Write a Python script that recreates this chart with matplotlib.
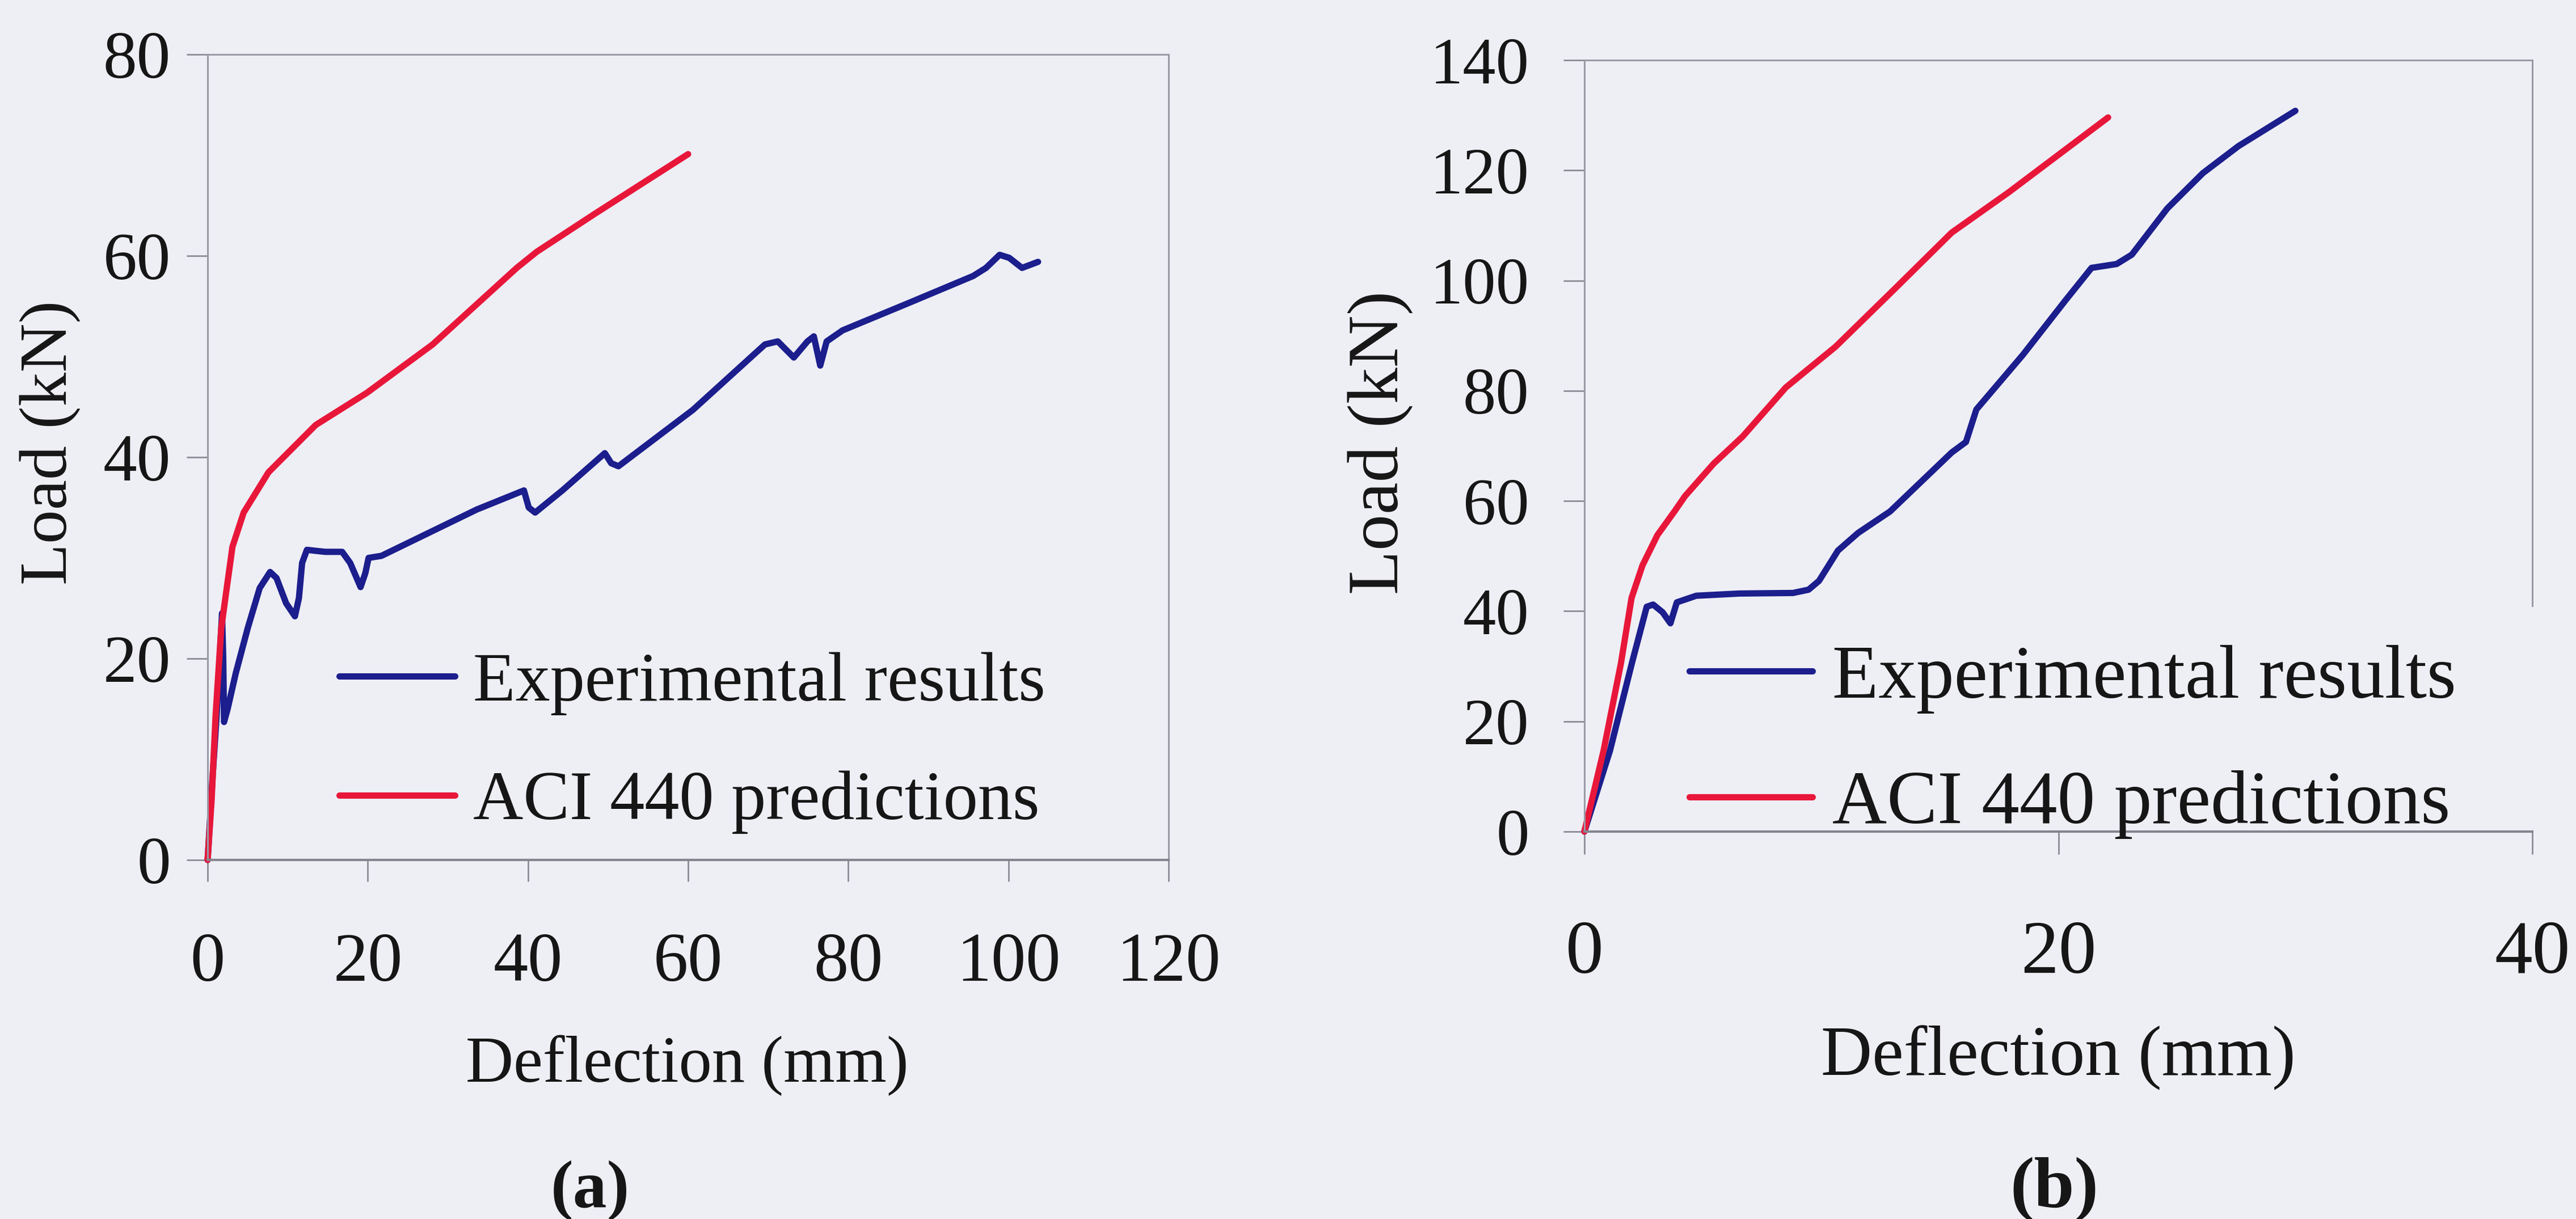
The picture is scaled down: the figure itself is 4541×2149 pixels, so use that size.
import numpy as np
import matplotlib
matplotlib.use("Agg")
import matplotlib.pyplot as plt

plt.rcParams['font.family'] = ['Liberation Serif', 'DejaVu Serif']

W, H = 4541, 2149
BG = '#EEEEF5'
BLUE = '#1B1E8C'
RED = '#E8173A'
SPINE = '#9A9AA6'
TXT = '#161616'

# beam (a): load-deflection
a_exp_x = [0, 0.6, 1.1, 1.5, 1.8, 1.95, 2.05, 2.5, 3.5, 5.0, 6.5, 7.8, 8.6, 9.8, 10.9, 11.4, 11.8,
           12.4, 13.5, 14.7, 16.8, 17.8, 19.1, 19.7, 20.1, 21.7, 33.6, 39.5, 40.1, 40.9, 44.3, 49.6,
           50.4, 51.3, 60.6, 69.6, 71.2, 73.2, 74.9, 75.7, 76.5, 77.3, 79.3, 87.5, 95.6, 97.2, 98.9,
           100.1, 101.7, 103.7]
a_exp_y = [0, 8, 14, 20, 24.5, 20, 13.7, 15, 18.5, 23, 27, 28.6, 28, 25.5, 24.2, 26, 29.5,
           30.8, 30.7, 30.6, 30.6, 29.5, 27.1, 28.5, 30.0, 30.2, 34.8, 36.7, 35.0, 34.5, 36.7, 40.4,
           39.4, 39.1, 44.7, 51.2, 51.5, 49.9, 51.5, 52.0, 49.1, 51.5, 52.6, 55.3, 58.0, 58.8, 60.1,
           59.8, 58.8, 59.4]
a_aci_x = [0, 0.5, 1.0, 1.7, 2.3, 3.1, 4.5, 7.6, 13.5, 19.9, 28.1, 38.6, 41.1, 48.4, 60.0]
a_aci_y = [0, 6, 14.4, 23.0, 26.5, 31.1, 34.5, 38.5, 43.2, 46.4, 51.2, 58.8, 60.4, 64.2, 70.1]

# beam (b): load-deflection
b_exp_x = [0, 1.08, 2.0, 2.63, 2.9, 3.3, 3.63, 3.9, 4.72, 6.54, 8.8, 9.46, 9.9, 10.7, 11.55, 12.9,
           15.5, 16.1, 16.54, 18.5, 20.3, 21.4, 22.46, 23.1, 24.6, 26.1, 27.6, 30.0]
b_exp_y = [0, 14.7, 30.5, 40.8, 41.2, 39.8, 37.8, 41.6, 42.8, 43.2, 43.3, 43.9, 45.5, 51, 54.2, 58.1,
           68.8, 70.7, 76.6, 86.5, 96.4, 102.3, 103, 104.7, 113.1, 119.5, 124.4, 130.8]
b_aci_x = [0, 0.81, 1.54, 1.99, 2.45, 3.08, 3.8, 4.25, 5.46, 6.68, 8.5, 10.6, 13.05, 15.5, 17.9, 22.1]
b_aci_y = [0, 14.7, 30.5, 42.4, 48.3, 53.8, 58.1, 60.9, 66.8, 71.7, 80.6, 88, 98.3, 108.7, 116, 129.6]

a_xticks = [0, 20, 40, 60, 80, 100, 120]
a_yticks = [0, 20, 40, 60, 80]
b_xticks = [0, 20, 40]
b_yticks = [0, 20, 40, 60, 80, 100, 120, 140]

labels = ['Experimental results', 'ACI 440 predictions']


def fx(px):
    return px / W


def fy(py):
    return 1 - py / H


def panel(rect, exp_x, exp_y, aci_x, aci_y, xticks, yticks, xfs, yfs, xpad, ypad, xlen):
    l, t, r, b = rect
    ax = fig.add_axes([fx(l), fy(b), fx(r) - fx(l), fy(t) - fy(b)])
    ax.set_facecolor(BG)
    ax.plot(exp_x, exp_y, color=BLUE, lw=8, label=labels[0], clip_on=False,
            solid_capstyle='round', solid_joinstyle='round')
    ax.plot(aci_x, aci_y, color=RED, lw=8, label=labels[1], clip_on=False,
            solid_capstyle='round', solid_joinstyle='round')
    ax.set_xlim(xticks[0], xticks[-1])
    ax.set_ylim(yticks[0], yticks[-1])
    ax.set_xticks(xticks)
    ax.set_yticks(yticks)
    for side in ['top', 'right', 'left']:
        ax.spines[side].set_color(SPINE)
        ax.spines[side].set_linewidth(2.2)
    ax.spines['bottom'].set_color('#85858F')
    ax.spines['bottom'].set_linewidth(3)
    ax.tick_params(axis='x', direction='out', length=xlen, width=2, color='#8C8C96',
                   labelsize=xfs, pad=xpad, labelcolor=TXT)
    ax.tick_params(axis='y', direction='out', length=27, width=2, color='#8C8C96',
                   labelsize=yfs, pad=ypad, labelcolor=TXT)
    return ax


fig = plt.figure(figsize=(W / 100, H / 100), dpi=100, facecolor=BG)

ax_a = panel((366, 96, 2060, 1516), a_exp_x, a_exp_y, a_aci_x, a_aci_y,
             a_xticks, a_yticks, 88, 86, 65, 20, 27)
ax_b = panel((2793, 106, 4464, 1466), b_exp_x, b_exp_y, b_aci_x, b_aci_y,
             b_xticks, b_yticks, 96, 84, 83, 43, 29)
ax_b.spines['right'].set_bounds(41, 140)

ax_a.legend(loc='center left', bbox_to_anchor=(fx(598), fy(1310)), bbox_transform=fig.transFigure,
            frameon=False, fontsize=88, handlelength=1.67, handletextpad=0.26, borderpad=0,
            borderaxespad=0, labelspacing=0.8, labelcolor=TXT)
ax_b.legend(loc='center left', bbox_to_anchor=(fx(2978), fy(1308)), bbox_transform=fig.transFigure,
            frameon=False, fontsize=96, handlelength=1.63, handletextpad=0.26, borderpad=0,
            borderaxespad=0, labelspacing=0.75, labelcolor=TXT)

# axis titles and panel captions
fig.text(fx(88), fy(780), 'Load (kN)', rotation=90, ha='center', va='center', fontsize=86, color=TXT)
fig.text(fx(2433), fy(780), 'Load (kN)', rotation=90, ha='center', va='center', fontsize=92, color=TXT)
fig.text(fx(1211), fy(1907), 'Deflection (mm)', ha='center', va='baseline', fontsize=84, color=TXT)
fig.text(fx(3628), fy(1895), 'Deflection (mm)', ha='center', va='baseline', fontsize=90, color=TXT)
fig.text(fx(1040), fy(2128), '(a)', ha='center', va='baseline', fontsize=86, fontweight='bold', color=TXT)
fig.text(fx(3621), fy(2128), '(b)', ha='center', va='baseline', fontsize=92, fontweight='bold', color=TXT)

fig.savefig('out.png', dpi=100, facecolor=BG)
